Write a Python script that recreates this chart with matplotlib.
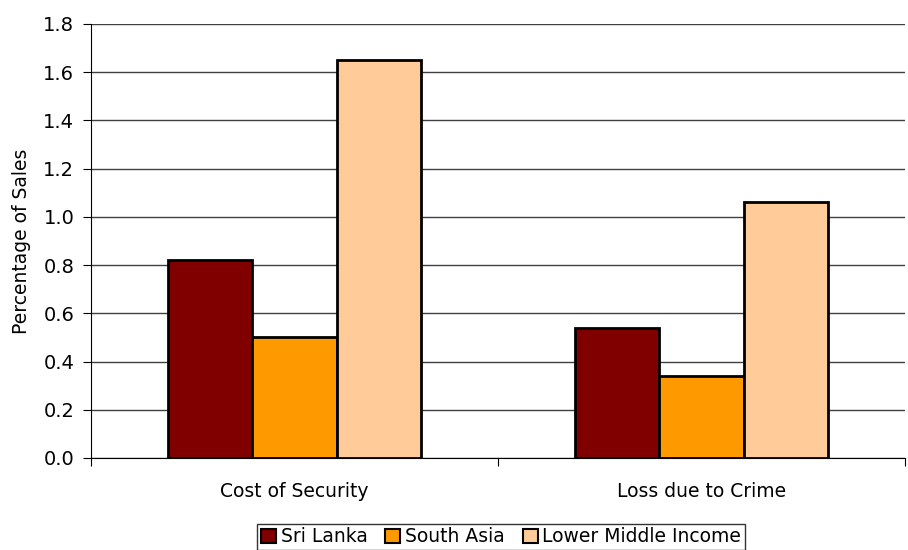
import numpy as np
import matplotlib.pyplot as plt
from matplotlib.patches import Patch

# --- data ---
categories = ['Cost of Security', 'Loss due to Crime']
series = ['Sri Lanka', 'South Asia', 'Lower Middle Income']
sri_lanka = [0.82, 0.54]
south_asia = [0.50, 0.34]
lower_middle = [1.65, 1.06]
colors = ['#800000', '#FF9900', '#FFCC99']

fig = plt.figure(figsize=(9.08, 5.5), dpi=100)
ax = fig.add_axes([0.1002, 0.1673, 0.8965, 0.7891])

x = np.arange(len(categories))
width = 0.207
for i, (vals, col) in enumerate(zip([sri_lanka, south_asia, lower_middle], colors)):
    ax.bar(x + (i - 1) * width, vals, width, color=col, edgecolor='black',
           linewidth=2, zorder=3)

ax.set_xlim(-0.5, 1.5)
ax.set_ylim(0, 1.8)
ax.set_yticks(np.arange(0, 1.81, 0.2))
ax.set_yticklabels([f'{v:.1f}' for v in np.arange(0, 1.81, 0.2)])
ax.yaxis.grid(True, color='#404040', linewidth=1, zorder=0)
ax.set_axisbelow(True)

# category labels without ticks, tick marks at boundaries
ax.set_xticks([-0.5, 0.5, 1.5])
ax.set_xticklabels([])
ax.set_xticks(x, minor=True)
ax.set_xticklabels(categories, minor=True, fontsize=13.5)
ax.tick_params(axis='x', which='minor', length=0, pad=17)
ax.tick_params(axis='x', which='major', length=6, direction='out', color='black')
ax.tick_params(axis='y', length=6, direction='out', labelsize=14, pad=6)

for s in ['top', 'right']:
    ax.spines[s].set_visible(False)
ax.spines['left'].set_color('black')
ax.spines['bottom'].set_color('black')

ax.set_ylabel('Percentage of Sales', fontsize=13.5, labelpad=9)

handles = [Patch(facecolor=c, edgecolor='black', linewidth=1.5) for c in colors]
leg = fig.legend(handles, series, loc='lower center', bbox_to_anchor=(0.552, 0.0),
                 ncol=3, fontsize=13.5, frameon=True, fancybox=False,
                 edgecolor='black', handlelength=0.8, handleheight=0.8,
                 handletextpad=0.25, columnspacing=0.95, borderpad=0.2,
                 borderaxespad=0)
leg.get_frame().set_linewidth(1)

fig.savefig('out.png', dpi=100)
